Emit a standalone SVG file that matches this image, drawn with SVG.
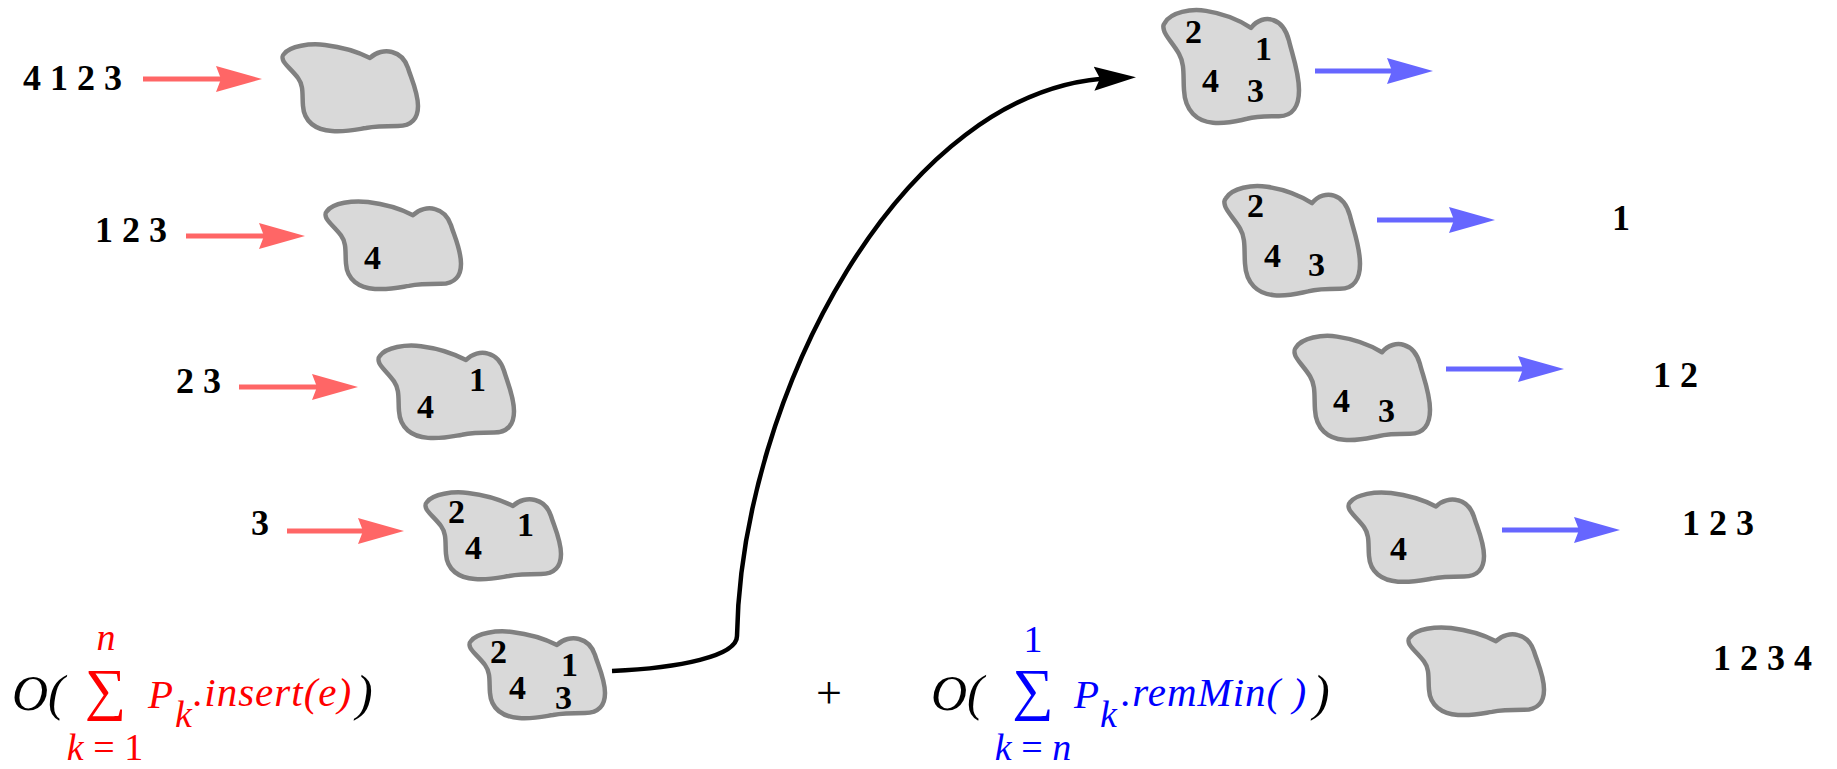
<svg xmlns="http://www.w3.org/2000/svg" xmlns:xlink="http://www.w3.org/1999/xlink" width="1837" height="769" viewBox="0 0 1837 769">
<style>
.blob{fill:#d9d9d9;stroke:#808080;stroke-width:4.5;stroke-linejoin:round;vector-effect:non-scaling-stroke}
.num{font-weight:bold;font-size:34px;fill:#000}
.seq{font-weight:bold;font-size:36px;fill:#000}
.ra{stroke:#ff6666;stroke-width:5;fill:none;marker-end:url(#hr)}
.ba{stroke:#6666ff;stroke-width:5;fill:none;marker-end:url(#hb)}
.curve{stroke:#000;stroke-width:4.5;fill:none;marker-end:url(#hk)}
.m{font-style:italic}
.up{font-style:normal}
.red{fill:#ff0000}
.blue{fill:#0000ff}
.blk{fill:#000}
</style>
<defs>
<path id="blob" class="blob" d="M 4,12 C 10,4 30,1 45,3 C 62,5 78,10 90,16 C 96,10 105,8 112,10 C 120,12 125,17 128,26 C 131,36 138,50 138,64 C 138,76 132,84 118,84 C 106,84 96,84 86,86 C 74,88 66,90 52,89 C 36,88 24,80 23,64 C 22,54 24,44 18,36 C 12,28 4,22 3,18 C 2,15 2,14 4,12 Z"/>
<marker id="hr" markerUnits="userSpaceOnUse" markerWidth="50" markerHeight="30" viewBox="0 -15 50 30" refX="26" refY="0" orient="auto"><path d="M0,-13 L46,0 L0,13 L5,0 Z" fill="#ff6666"/></marker>
<marker id="hb" markerUnits="userSpaceOnUse" markerWidth="50" markerHeight="30" viewBox="0 -15 50 30" refX="26" refY="0" orient="auto"><path d="M0,-13 L46,0 L0,13 L5,0 Z" fill="#6666ff"/></marker>
<marker id="hk" markerUnits="userSpaceOnUse" markerWidth="50" markerHeight="30" viewBox="0 -15 50 30" refX="20" refY="0" orient="auto"><path d="M0,-12 L42,0 L0,12 L6,0 Z" fill="#000"/></marker>
</defs>
<rect width="1837" height="769" fill="#fff"/>

<g id="connectors">
<line class="ra" x1="143" y1="79" x2="242" y2="79"/>
<line class="ra" x1="186" y1="236" x2="285" y2="236"/>
<line class="ra" x1="239" y1="387" x2="338" y2="387"/>
<line class="ra" x1="287" y1="531" x2="384" y2="531"/>
<line class="ba" x1="1315" y1="71" x2="1413" y2="71"/>
<line class="ba" x1="1377" y1="220" x2="1475" y2="220"/>
<line class="ba" x1="1446" y1="369" x2="1544" y2="369"/>
<line class="ba" x1="1502" y1="530" x2="1600" y2="530"/>
<path class="curve" d="M 612,671 C 680,668 737,656 737,636 C 741,400 900,85 1114,78"/>
</g>

<g id="seq-in-1" font-family="'Liberation Serif', serif"><text class="seq" x="23" y="90">4 1 2 3</text></g>
<g id="seq-in-2" font-family="'Liberation Serif', serif"><text class="seq" x="95" y="242">1 2 3</text></g>
<g id="seq-in-3" font-family="'Liberation Serif', serif"><text class="seq" x="176" y="393">2 3</text></g>
<g id="seq-in-4" font-family="'Liberation Serif', serif"><text class="seq" x="251" y="535">3</text></g>

<g id="blob1"><use xlink:href="#blob" href="#blob" transform="translate(280,42)"/></g>
<g id="blob2" font-family="'Liberation Serif', serif"><use xlink:href="#blob" href="#blob" transform="translate(323,199) scale(1,1.01)"/><text class="num" x="364" y="269">4</text></g>
<g id="blob3" font-family="'Liberation Serif', serif"><use xlink:href="#blob" href="#blob" transform="translate(376,343) scale(1,1.066)"/><text class="num" x="469" y="391">1</text><text class="num" x="417" y="418">4</text></g>
<g id="blob4" font-family="'Liberation Serif', serif"><use xlink:href="#blob" href="#blob" transform="translate(423,490)"/><text class="num" x="448" y="523">2</text><text class="num" x="517" y="536">1</text><text class="num" x="465" y="559">4</text></g>
<g id="blob5" font-family="'Liberation Serif', serif"><use xlink:href="#blob" href="#blob" transform="translate(467,629)"/><text class="num" x="490" y="663">2</text><text class="num" x="561" y="676">1</text><text class="num" x="509" y="699">4</text><text class="num" x="555" y="709">3</text></g>

<g id="blob6" font-family="'Liberation Serif', serif"><use xlink:href="#blob" href="#blob" transform="translate(1161,7) scale(1,1.3)"/><text class="num" x="1185" y="43">2</text><text class="num" x="1255" y="60">1</text><text class="num" x="1202" y="92">4</text><text class="num" x="1247" y="102">3</text></g>
<g id="blob7" font-family="'Liberation Serif', serif"><use xlink:href="#blob" href="#blob" transform="translate(1222,183) scale(1,1.26)"/><text class="num" x="1247" y="217">2</text><text class="num" x="1264" y="267">4</text><text class="num" x="1308" y="276">3</text></g>
<g id="blob8" font-family="'Liberation Serif', serif"><use xlink:href="#blob" href="#blob" transform="translate(1292,333) scale(1,1.2)"/><text class="num" x="1333" y="412">4</text><text class="num" x="1378" y="422">3</text></g>
<g id="blob9" font-family="'Liberation Serif', serif"><use xlink:href="#blob" href="#blob" transform="translate(1346,490) scale(1,1.03)"/><text class="num" x="1390" y="560">4</text></g>
<g id="blob10"><use xlink:href="#blob" href="#blob" transform="translate(1406,625) scale(1,1.01)"/></g>

<g id="seq-out-2" font-family="'Liberation Serif', serif"><text class="seq" x="1612" y="230">1</text></g>
<g id="seq-out-3" font-family="'Liberation Serif', serif"><text class="seq" x="1653" y="387">1 2</text></g>
<g id="seq-out-4" font-family="'Liberation Serif', serif"><text class="seq" x="1682" y="535">1 2 3</text></g>
<g id="seq-out-5" font-family="'Liberation Serif', serif"><text class="seq" x="1713" y="670">1 2 3 4</text></g>

<g id="formula-insert" font-family="'Liberation Serif', serif">
<text class="m blk" x="12" y="710" font-size="50">O(</text>
<text class="up red" x="105.5" y="709" font-size="58" text-anchor="middle">∑</text>
<text class="m red" x="106" y="650" font-size="38" text-anchor="middle">n</text>
<text class="red" x="105" y="760" font-size="38" text-anchor="middle"><tspan class="m">k</tspan><tspan class="up"> = 1</tspan></text>
<text class="m red" x="148" y="708" font-size="41">P</text>
<text class="m red" x="175" y="727" font-size="38">k</text>
<text class="m red" x="193" y="706" font-size="41" letter-spacing="1">.insert(e)</text>
<text class="m blk" x="356" y="710" font-size="50">)</text>
</g>

<g id="formula-remmin" font-family="'Liberation Serif', serif">
<text class="up blk" x="829" y="708" font-size="46" text-anchor="middle">+</text>
<text class="m blk" x="931" y="710" font-size="50">O(</text>
<text class="up blue" x="1033" y="709" font-size="58" text-anchor="middle">∑</text>
<text class="up blue" x="1033" y="652" font-size="38" text-anchor="middle">1</text>
<text class="blue" x="1033" y="760" font-size="38" text-anchor="middle"><tspan class="m">k</tspan><tspan class="up"> = </tspan><tspan class="m">n</tspan></text>
<text class="m blue" x="1074" y="708" font-size="41">P</text>
<text class="m blue" x="1100" y="727" font-size="38">k</text>
<text class="m blue" x="1121" y="706" font-size="41" letter-spacing="1">.remMin( )</text>
<text class="m blk" x="1313" y="710" font-size="50">)</text>
</g>
</svg>
